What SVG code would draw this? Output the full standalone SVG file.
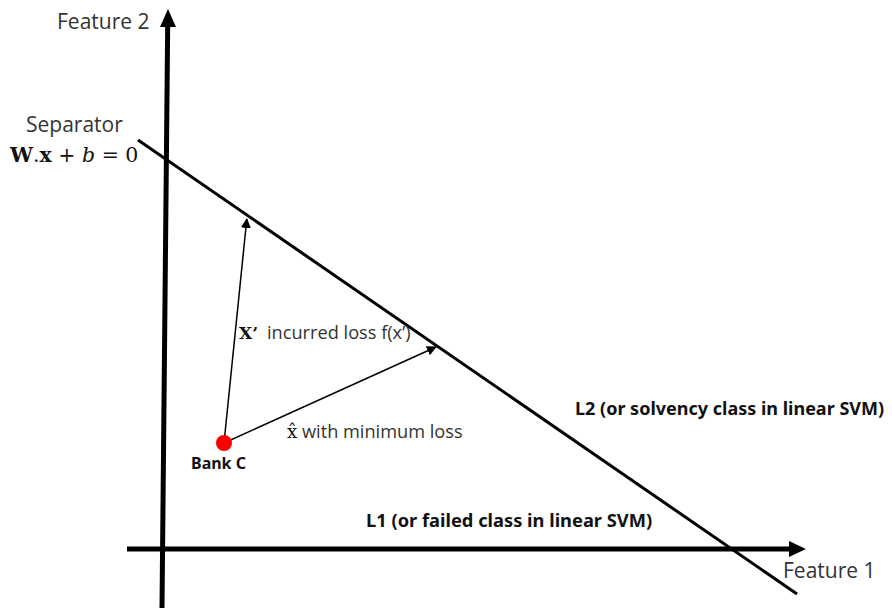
<svg xmlns="http://www.w3.org/2000/svg" width="892" height="610" viewBox="0 0 892 610">
<style>
.lbl{font-family:"Open Sans","Noto Sans","Liberation Sans",sans-serif;fill:#333;}
.bold{font-family:"Noto Sans","Open Sans","Liberation Sans",sans-serif;font-weight:bold;fill:#111;}
.math{font-family:"DejaVu Serif","Liberation Serif",serif;fill:#111;}
.axis{stroke:#000;stroke-width:5;fill:none;}
.sep{stroke:#000;stroke-width:3;fill:none;}
.vec{stroke:#000;stroke-width:1.5;fill:none;}
</style>
<defs>
<marker id="ah" markerWidth="10" markerHeight="10" refX="9" refY="5" orient="auto" markerUnits="userSpaceOnUse" viewBox="0 0 10 10">
<path d="M0,0 L10,5 L0,10 z" fill="#000"/>
</marker>
</defs>
<rect width="892" height="610" fill="#fff"/>
<g id="connectors">
<g id="axis-y"><line class="axis" x1="162" y1="608" x2="167.7" y2="24"/><polygon points="168,9 160,27 176,27" fill="#000"/></g>
<g id="axis-x"><line class="axis" x1="127" y1="549" x2="792" y2="549"/><polygon points="806,549 789,541 789,557" fill="#000"/></g>
<g id="separator"><line class="sep" x1="138" y1="140" x2="797" y2="594"/></g>
<g id="vec-xprime"><line class="vec" x1="224" y1="443" x2="246.8" y2="219" marker-end="url(#ah)"/></g>
<g id="vec-xhat"><line class="vec" x1="224" y1="443" x2="436" y2="347" marker-end="url(#ah)"/></g>
</g>
<g id="bank-c">
<circle cx="224" cy="443" r="8" fill="#f00"/>
<text class="bold" x="191" y="469" font-size="16">Bank C</text>
</g>
<g id="labels">
<text class="lbl" x="57" y="29" font-size="21">Feature 2</text>
<text class="lbl" x="783" y="578" font-size="21">Feature 1</text>
<text class="lbl" x="26" y="132" font-size="21">Separator</text>
<text class="math" x="10" y="162" font-size="20.5"><tspan font-weight="bold">W</tspan>.<tspan font-weight="bold">x</tspan> + <tspan font-style="italic">b</tspan> = 0</text>
<text class="math" x="239" y="339" font-size="17" font-weight="bold">X’</text>
<text class="lbl" x="267" y="339" font-size="18.2">incurred loss f(x’)</text>
<text class="lbl" x="287" y="438" font-size="18.2"><tspan class="math">x̂</tspan> with minimum loss</text>
<text class="bold" x="575" y="415" font-size="18">L2 (or solvency class in linear SVM)</text>
<text class="bold" x="366" y="527" font-size="18.3">L1 (or failed class in linear SVM)</text>
</g>
</svg>
